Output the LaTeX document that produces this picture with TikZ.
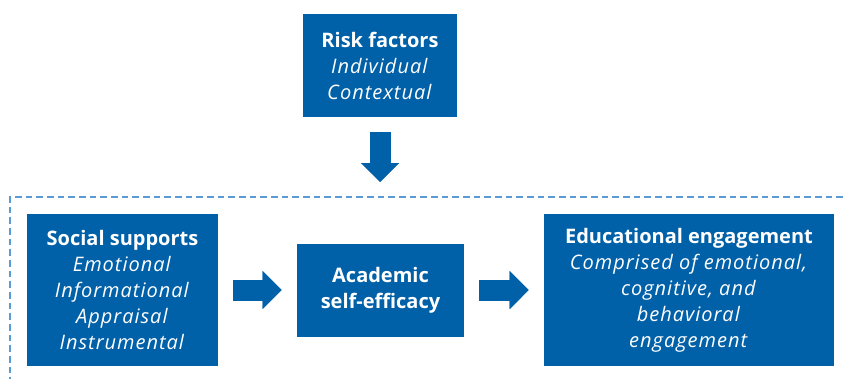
\documentclass[tikz,border=0pt]{standalone}
\usepackage{fontspec}
\setmainfont{Open Sans}[ItalicFeatures={LetterSpace=5}]
\usetikzlibrary{arrows.meta, positioning}
\definecolor{boxblue}{HTML}{0060A8}
\definecolor{frameblue}{HTML}{5B9BD5}

\tikzset{
  blockbox/.style={rectangle, fill=boxblue, text=white, align=center, inner sep=0pt,
    font=\fontsize{15}{19.5}\selectfont},
  blockarrow/.style={draw=boxblue, line width=15.75pt,
    -{Triangle[width=28.5pt, length=14.25pt, line width=0.01pt]},
    shorten <=11.25pt, shorten >=11.25pt},
  dashedframe/.style={draw=frameblue, line width=1pt, dash pattern=on 5pt off 3pt}
}

\begin{document}
\begin{tikzpicture}[x=0.75pt, y=-0.75pt]
\useasboundingbox (0,0) rectangle (845,379);

\node[blockbox, minimum width=115.5pt, minimum height=77.25pt] (risk) at (380,65.5)
  {\textbf{Risk factors}\\\textit{Individual}\\\textit{Contextual}};
\node[blockbox, minimum width=143.25pt, minimum height=114pt] (social) at (122.5,290)
  {\textbf{Social supports}\\\textit{Emotional}\\\textit{Informational}\\\textit{Appraisal}\\\textit{Instrumental}};
\node[blockbox, minimum width=125.25pt, minimum height=69.75pt] (efficacy) at (380.5,290)
  {\textbf{Academic}\\\textbf{self-efficacy}};
\node[blockbox, minimum width=217.5pt, minimum height=114pt] (engage) at (689,290)
  {\textbf{Educational engagement}\\\textit{Comprised of emotional,}\\\textit{cognitive, and}\\\textit{behavioral}\\\textit{engagement}};

% dashed frame, cut off at the right and bottom
\coordinate (frametl) at (10,197);
\draw[dashedframe] (843,197) -- (frametl) -- (10,379);

\draw[blockarrow] (risk) -- (risk |- frametl);
\draw[blockarrow] (social) -- (efficacy);
\draw[blockarrow] (efficacy) -- (engage);
\end{tikzpicture}
\end{document}
